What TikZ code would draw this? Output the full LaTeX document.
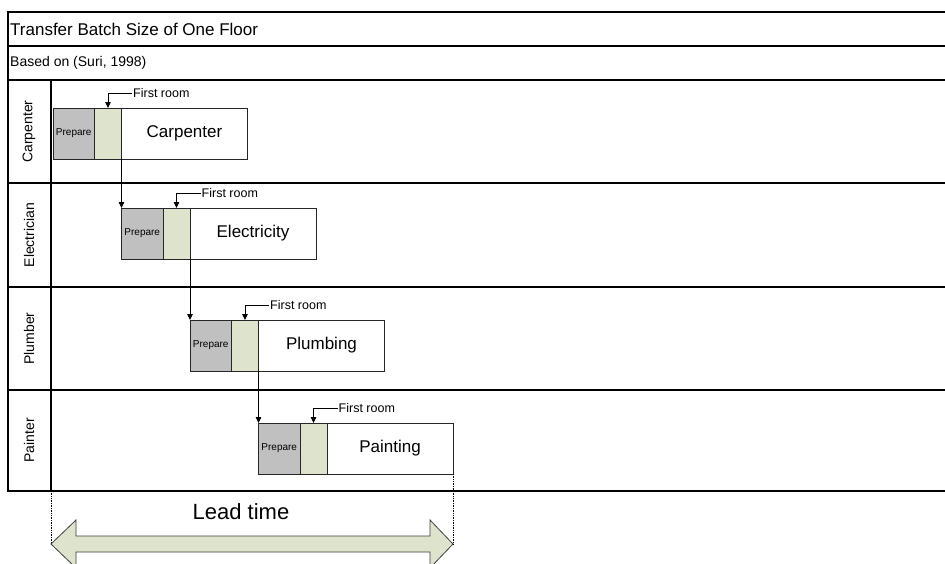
\documentclass[tikz,border=0pt]{standalone}
\usepackage{fontspec}
\setmainfont{Liberation Sans}
\usetikzlibrary{arrows.meta,calc}
\definecolor{prepgray}{HTML}{C0C0C0}
\definecolor{roomgreen}{HTML}{DDE3CC}
\begin{document}
\begin{tikzpicture}[x=1pt,y=-1pt,
  lane/.style={line width=1.1pt,draw=black},
  boxbase/.style={draw=black!85,line width=0.8pt,minimum height=51pt,inner sep=0pt,outer sep=0pt,anchor=north west},
  prepbox/.style={boxbase,fill=prepgray,minimum width=41.5pt,font=\fontsize{10}{12}\selectfont},
  roombox/.style={boxbase,fill=roomgreen,minimum width=27pt},
  workbox/.style={boxbase,fill=white,minimum width=126pt,font=\fontsize{17}{20}\selectfont},
  roomlbl/.style={anchor=west,inner sep=1pt,font=\fontsize{12.5}{14}\selectfont},
  lanelbl/.style={rotate=90,font=\fontsize{14}{16}\selectfont},
  tip/.style={-{Triangle[length=6pt,width=5.5pt]},line width=0.8pt},
  dots/.style={densely dotted,line width=0.7pt}]
\useasboundingbox (0,0) rectangle (945,563);
\fill[white] (0,0) rectangle (945,563);
% frame
\draw[lane] (945,12) -- (8,12) -- (8,491) -- (945,491);
\draw[lane] (8,46) -- (945,46);
\draw[lane] (8,80) -- (945,80);
\draw[lane] (8,183) -- (945,183);
\draw[lane] (8,287) -- (945,287);
\draw[lane] (8,390) -- (945,390);
\draw[lane] (51,80) -- (51,491);
\node[anchor=west,inner sep=0pt,font=\fontsize{17}{20}\selectfont] (title) at (10,29) {Transfer Batch Size of One Floor};
\node[anchor=west,inner sep=0pt,font=\fontsize{14}{16}\selectfont] (based) at (10,63) {Based on (Suri, 1998)};
\node[lanelbl] (l1) at (29,131.5) {Carpenter};
\node[lanelbl] (l2) at (29,235) {Electrician};
\node[lanelbl] (l3) at (29,338.5) {Plumber};
\node[lanelbl] (l4) at (29,440.5) {Painter};
% boxes
\foreach \i/\x/\y/\t in {1/53/108/Carpenter,2/121.5/208/Electricity,3/190/320/Plumbing,4/258.5/423/Painting}{
  \node[prepbox] (p\i) at (\x,\y) {Prepare};
  \node[roombox] (g\i) at (p\i.north east) {};
  \node[workbox] (w\i) at (g\i.north east) {\t};
  \node[roomlbl] (r\i) at ($(g\i.north)+(24,-15)$) {First room};
  \draw[tip] (r\i.west) -| (g\i.north);
}
% transfers
\draw[tip] (g1.south east) -- (p2.north west);
\draw[tip] (g2.south east) -- (p3.north west);
\draw[tip] (g3.south east) -- (p4.north west);
% lead time
\coordinate (lt) at (51,544);
\coordinate (rt) at (453,544);
\draw[dots] (51,491) -- (lt);
\draw[dots] (w4.south east) -- (rt);
\draw[draw=black!75,line width=0.8pt,fill=roomgreen]
  (lt) -- ++(25,-24) -- ++(0,16) -- ($(rt)+(-23,-8)$) -- ++(0,-16) -- (rt)
  -- ++(-23,24) -- ++(0,-16) -- ($(lt)+(25,8)$) -- ++(0,16) -- cycle;
\node[font=\fontsize{22}{26}\selectfont,inner sep=0pt] (lead) at (241,512) {Lead time};
\end{tikzpicture}
\end{document}
